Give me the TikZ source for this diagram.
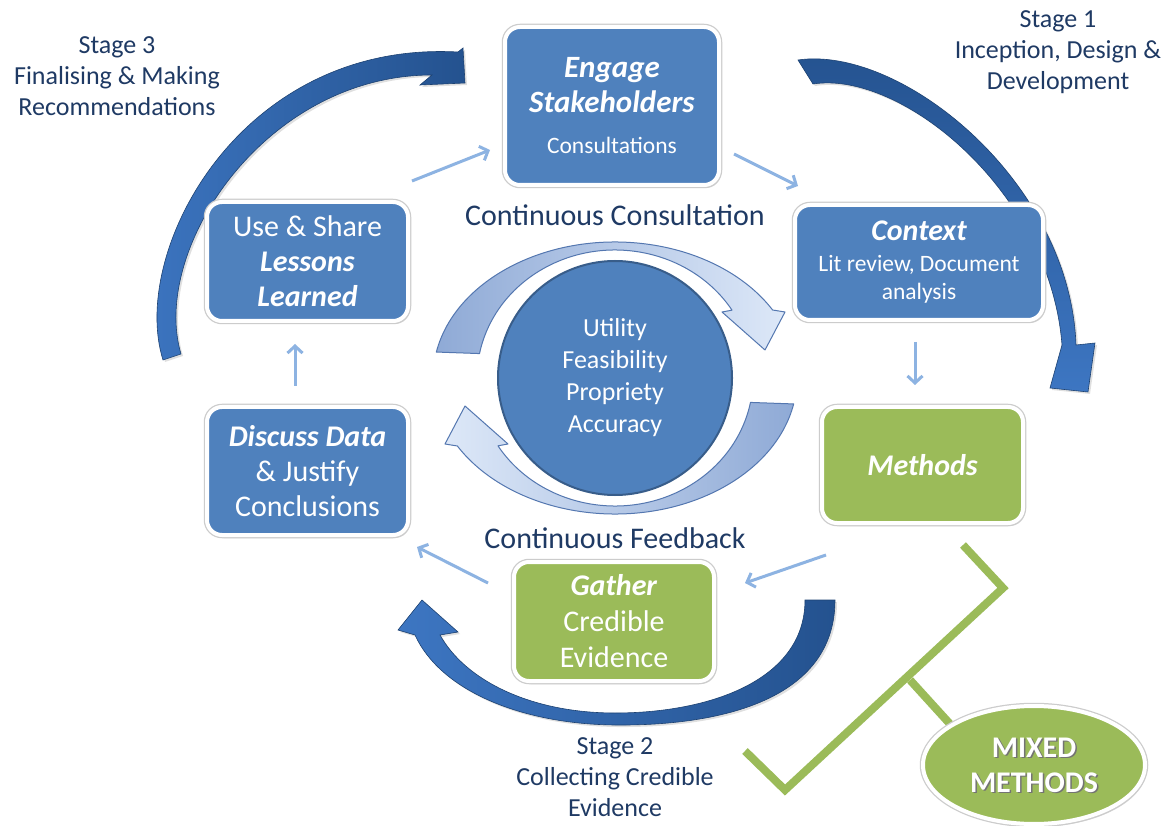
\documentclass[tikz,border=0pt]{standalone}
\usepackage{fontspec}
\setmainfont{Carlito}
\usetikzlibrary{arrows.meta,shadows,calc,shapes.geometric}

\definecolor{boxblue}{HTML}{4F81BD}
\definecolor{boxgreen}{HTML}{9BBB59}
\definecolor{navy}{HTML}{1F3A64}
\definecolor{linkblue}{HTML}{8DB3E2}
\definecolor{ringmid}{HTML}{8FAAD6}
\definecolor{ringlight}{HTML}{DDE8F8}
\definecolor{ringedge}{HTML}{5477B0}
\definecolor{stagedark}{HTML}{24528F}
\definecolor{stagelight}{HTML}{3D76C2}
\definecolor{circedge}{HTML}{385D8A}

\begin{document}
\begin{tikzpicture}[x=1pt,y=-1pt,
  card/.style={rounded corners=15pt, draw=white, line width=4pt, text=white,
    align=center, inner sep=0pt,
    drop shadow={opacity=0.3, shadow xshift=2pt, shadow yshift=-3pt},
    preaction={draw=black!20, line width=6.5pt}},
  bluecard/.style={card, fill=boxblue},
  greencard/.style={card, fill=boxgreen},
  link/.style={draw=linkblue, line width=3pt,
    -{Straight Barb[length=7pt,width=15pt]}},
  stagetext/.style={text=navy, align=center, font=\fontsize{26}{31}\selectfont},
  flowtext/.style={text=navy, font=\fontsize{30}{36}\selectfont},
  ringarrow/.style={draw=ringedge, line width=1pt, line join=round},
  bigarrow/.style={draw=stagedark!80!black, line width=0.6pt,
    drop shadow={opacity=0.25, shadow xshift=2pt, shadow yshift=-2pt}},
  bracket/.style={draw=boxgreen, line width=8pt, line join=miter},
]
\useasboundingbox (0,0) rectangle (1163,826);
\fill[white] (0,0) rectangle (1163,826);

% central standards circle
\node[circle, fill=boxblue, draw=circedge, line width=2pt, minimum size=234pt,
  inner sep=0pt, text=white, align=center, font=\fontsize{26}{32}\selectfont]
  (core) at (615,378) {Utility\\Feasibility\\Propriety\\Accuracy};

% circular arrows around the circle
\path[ringarrow, left color=ringmid, right color=ringlight]
  ($(core.center)+(191:182 and 136)$)
  arc[start angle=191, end angle=330, x radius=182, y radius=136]
  -- (785,312) -- (765,350) -- (722,312)
  -- ($(core.center)+(328:138 and 128)$)
  arc[start angle=328, end angle=191, x radius=138, y radius=128] -- cycle;
\path[ringarrow, left color=ringlight, right color=ringmid]
  ($(core.center)+(11:182 and 136)$)
  arc[start angle=11, end angle=150, x radius=182, y radius=136]
  -- (445,444) -- (465,406) -- (508,444)
  -- ($(core.center)+(148:138 and 128)$)
  arc[start angle=148, end angle=11, x radius=138, y radius=128] -- cycle;

% stage arrows
\path[bigarrow, left color=stagelight, right color=stagedark]
  (163,360) .. controls (129,252) and (240,40) .. (458,52)
  -- (463,48) -- (465,83) -- (420,85) -- (432,75)
  .. controls (265,75) and (150,250) .. (181,354) -- cycle;
\path[bigarrow, top color=stagedark, bottom color=stagelight]
  (798,60) .. controls (900,45) and (1070,180) .. (1076,345)
  -- (1095,343) -- (1088,392) -- (1050,388) -- (1062,345)
  .. controls (1050,190) and (900,70) .. (813,84) -- cycle;
\path[bigarrow, left color=stagelight, right color=stagedark]
  (835,600) .. controls (835,700) and (720,726) .. (615,725)
  .. controls (520,724) and (440,690) .. (415,635)
  -- (398,630) -- (422,600) -- (458,632) -- (440,635)
  .. controls (465,680) and (530,713) .. (615,713)
  .. controls (710,713) and (805,680) .. (805,600) -- cycle;

% mixed-methods bracket
\draw[bracket] (963,545) -- (1003,588) -- (785,790) -- (745,751);
\draw[bracket] (910,680) -- (950,724);

% process cards
\node[bluecard, minimum width=214pt, minimum height=158pt,
  font=\fontsize{31}{35}\selectfont] (eng) at (612,106)
  {\textbf{\textit{Engage}}\\\textbf{\textit{Stakeholders}}\\[6pt]{\fontsize{23.5}{26}\selectfont Consultations}};
\node[bluecard, minimum width=248pt, minimum height=115pt,
  font=\fontsize{23.5}{28}\selectfont] (ctx) at (919,262.5)
  {{\fontsize{30}{35}\selectfont\bfseries\itshape Context}\\[3pt]Lit review, Document\\analysis};
\node[greencard, minimum width=201pt, minimum height=116pt,
  font=\fontsize{30}{36}\selectfont\bfseries\itshape] (meth) at (922.5,465) {Methods};
\node[greencard, minimum width=200pt, minimum height=119pt,
  font=\fontsize{30}{36}\selectfont] (gath) at (614,621.5)
  {\textbf{\textit{Gather}}\\Credible\\Evidence};
\node[bluecard, minimum width=201pt, minimum height=128pt,
  font=\fontsize{30}{35}\selectfont] (disc) at (307.5,471)
  {\textbf{\textit{Discuss Data}}\\\& Justify\\Conclusions};
\node[bluecard, minimum width=201pt, minimum height=119pt,
  font=\fontsize{30}{35}\selectfont] (use) at (307.5,261.5)
  {Use \& Share\\\textbf{\textit{Lessons}}\\\textbf{\textit{Learned}}};

% mixed methods badge
\node[ellipse, fill=boxgreen, draw=white, line width=4pt, inner sep=0pt,
  drop shadow={opacity=0.3, shadow xshift=2pt, shadow yshift=-3pt},
  preaction={draw=black!20, line width=6.5pt},
  minimum width=222pt, minimum height=118pt] (mix) at (1034,765) {};
\node[text=black!55, align=center, font=\fontsize{30}{35}\selectfont\bfseries]
  (mixshade) at (1035.5,766.5) {MIXED\\METHODS};
\node[text=white, align=center, font=\fontsize{30}{35}\selectfont\bfseries]
  (mixtext) at (mix.center) {MIXED\\METHODS};

% connectors between cards
\draw[link] ([shift={(2,-19)}]use.north east) -- ([shift={(-13,-37)}]eng.south west);
\draw[link] ([shift={(13,-33)}]eng.south east) -- ([shift={(5,-17)}]ctx.north west);
\draw[link] ([shift={(-4,20)}]ctx.south) -- ([shift={(-7.5,-20)}]meth.north);
\draw[link] ([shift={(6,30)}]meth.south west) -- ([shift={(29,23)}]gath.north east);
\draw[link] ([shift={(-24,23)}]gath.north west) -- ([shift={(7,10)}]disc.south east);
\draw[link] ([shift={(-12.5,-19)}]disc.north) -- ([shift={(-12.5,21)}]use.south);

% labels
\node[flowtext] (cc) at (615,215) {Continuous Consultation};
\node[flowtext] (cf) at (615,538) {Continuous Feedback};
\node[stagetext] (s3) at (117,76) {Stage 3\\Finalising \& Making\\Recommendations};
\node[stagetext] (s1) at (1058,52) {Stage 1\\Inception, Design \&\\Development};
\node[stagetext] (s2) at (615,777) {Stage 2\\Collecting Credible\\Evidence};
\end{tikzpicture}
\end{document}
